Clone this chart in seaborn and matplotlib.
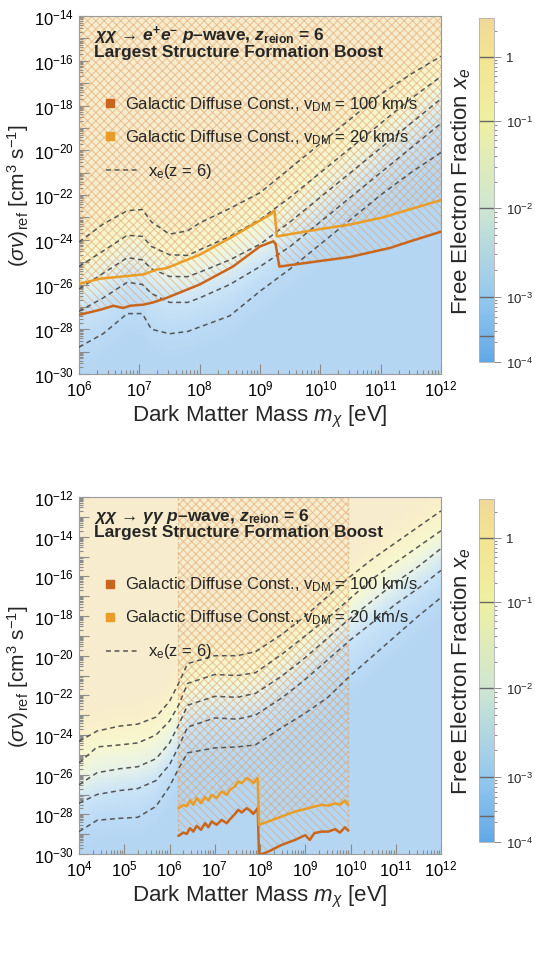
import numpy as np
import matplotlib
matplotlib.use('Agg')
import matplotlib.pyplot as plt
import seaborn as sns
from matplotlib.colors import LinearSegmentedColormap, FuncNorm, to_rgb, to_rgba
from matplotlib.ticker import FixedLocator, FuncFormatter, NullFormatter

sns.set_style('ticks')
plt.rcParams['font.family'] = ['Liberation Sans', 'DejaVu Sans']
plt.rcParams['mathtext.fontset'] = 'custom'
plt.rcParams['mathtext.rm'] = 'Liberation Sans'
plt.rcParams['mathtext.it'] = 'Liberation Sans:italic'
plt.rcParams['mathtext.bf'] = 'Liberation Sans:bold'
plt.rcParams['mathtext.bfit'] = 'Liberation Sans:italic:bold'
plt.rcParams['hatch.linewidth'] = 0.75

# ---------------- data (log10 values) ----------------
# contour levels of x_e(z = 6), top to bottom
XE_LEVELS = [1.0, 1e-1, 1e-2, 1e-3, 2.5e-4]

# top panel: chi chi -> e+ e-, mass grid log10(m / eV)
TOP_MASS = [6.0, 6.4, 6.8, 7.05, 7.2, 7.5, 7.8, 8.0, 8.5, 9.0, 9.5, 10.0, 10.5, 11.0, 11.5, 12.0]
TOP_XE_1 = [-24.1, -23.3, -22.7, -22.65, -23.2, -23.75, -23.6, -23.25, -22.6, -21.9, -20.8, -19.7, -18.6, -17.5, -16.6, -15.8]
TOP_XE_01 = [-25.2, -24.5, -23.8, -23.85, -24.3, -24.67, -24.7, -24.45, -23.85, -23.1, -22.1, -21.0, -19.9, -18.8, -17.7, -16.7]
TOP_XE_001 = [-26.2, -25.5, -24.8, -24.9, -25.3, -25.64, -25.65, -25.45, -24.9, -24.2, -23.2, -22.1, -21.0, -19.9, -18.8, -17.7]
TOP_XE_0001 = [-27.2, -26.6, -25.9, -26.0, -26.4, -26.8, -26.8, -26.6, -26.0, -25.2, -24.3, -23.2, -22.1, -21.0, -19.9, -18.8]
TOP_XE_LOW = [-28.8, -28.2, -27.3, -27.3, -28.0, -28.2, -28.1, -27.9, -27.4, -26.3, -25.3, -24.2, -23.1, -22.0, -21.0, -20.1]

TOP_V100_M = [6.0, 6.35, 6.57, 6.73, 6.85, 7.07, 7.23, 7.45, 8.0, 8.55, 9.0, 9.22, 9.26, 9.32, 9.94, 10.49, 11.15, 11.49, 12.0]
TOP_V100 = [-27.36, -27.13, -26.95, -27.05, -26.95, -26.9, -26.8, -26.6, -26.0, -25.2, -24.3, -24.07, -24.2, -25.2, -24.97, -24.77, -24.37, -24.07, -23.64]
TOP_V20_M = [6.0, 6.35, 6.73, 7.07, 7.28, 7.45, 8.0, 8.55, 9.17, 9.24, 9.28, 9.94, 10.49, 11.04, 11.37, 12.0]
TOP_V20 = [-25.97, -25.74, -25.64, -25.55, -25.34, -25.27, -24.67, -23.85, -22.87, -22.7, -23.85, -23.55, -23.32, -23.0, -22.73, -22.23]

# bottom panel: chi chi -> gamma gamma
BOT_MASS = [4.0, 4.4, 4.9, 5.3, 5.7, 6.0, 6.2, 6.4, 7.0, 7.5, 7.9, 8.5, 9.0, 9.5, 10.0, 10.5, 11.0, 11.5, 12.0]
BOT_XE_1 = [-24.32, -23.8, -23.55, -23.45, -23.1, -22.3, -21.4, -20.4, -20.0, -20.0, -19.8, -18.9, -18.0, -17.0, -16.0, -15.1, -14.3, -13.5, -12.7]
BOT_XE_01 = [-25.41, -24.6, -24.5, -24.4, -24.0, -23.3, -22.5, -21.4, -20.95, -21.0, -20.86, -19.9, -19.0, -18.1, -17.1, -16.1, -15.3, -14.5, -13.7]
BOT_XE_001 = [-26.51, -25.9, -25.7, -25.6, -25.2, -24.4, -23.5, -22.5, -22.05, -22.1, -21.9, -21.0, -20.1, -19.1, -18.1, -17.2, -16.3, -15.5, -14.6]
BOT_XE_0001 = [-27.44, -27.0, -26.8, -26.7, -26.3, -25.5, -24.6, -23.6, -23.14, -23.2, -23.0, -22.1, -21.2, -20.2, -19.2, -18.3, -17.4, -16.6, -15.7]
BOT_XE_LOW = [-28.87, -28.3, -28.2, -28.15, -27.6, -26.6, -25.7, -24.9, -24.65, -24.6, -24.5, -23.6, -22.9, -22.1, -21.0, -20.0, -19.0, -18.0, -17.07]

BOT_V20_M = [6.195, 6.306, 6.38, 6.453, 6.527, 6.601, 6.696, 6.785, 6.858, 6.932, 7.042, 7.153, 7.263,
             7.337, 7.448, 7.521, 7.595, 7.705, 7.779, 7.853, 7.949, 7.978, 8.184, 8.479, 8.773, 9.068,
             9.215, 9.363, 9.51, 9.658, 9.768, 9.879, 9.952]
BOT_V20 = [-27.69, -27.52, -27.6, -27.3, -27.52, -27.18, -27.44, -27.13, -27.3, -27.02, -27.18, -26.85, -27.02,
           -26.76, -26.59, -26.34, -26.43, -26.17, -26.26, -26.43, -26.17, -28.53, -28.36, -28.11, -27.86, -27.69,
           -27.6, -27.52, -27.57, -27.44, -27.52, -27.3, -27.52]
BOT_V100_M = [6.195, 6.306, 6.38, 6.453, 6.527, 6.601, 6.696, 6.785, 6.858, 6.932, 7.042, 7.153, 7.263,
              7.337, 7.448, 7.521, 7.595, 7.705, 7.779, 7.853, 7.949, 7.978, 8.184, 8.479, 8.773, 9.0,
              9.1, 9.2, 9.363, 9.51, 9.658, 9.768, 9.879, 9.952]
BOT_V100 = [-29.09, -28.92, -28.99, -28.7, -28.87, -28.58, -28.78, -28.45, -28.65, -28.36, -28.53, -28.28, -28.45,
            -28.25, -27.98, -27.77, -27.91, -27.69, -27.81, -27.98, -27.69, -30.05, -29.88, -29.54, -29.29, -29.05,
            -29.29, -28.95, -28.87, -28.87, -28.75, -28.92, -28.65, -28.82]

# ---------------- colours ----------------
DARK = '#c9661c'
LIGHT = '#e99d26'
DASH = '#555555'
HATCH = to_rgba('#dea064', 0.55)
BAR_LOGS = [-4.0, -3.0, -2.0, -1.0, 0.0, 0.45]
BAR_POS = [0.0, 0.189, 0.448, 0.70, 0.887, 1.0]
BAR_COLS = ['#62a8e6', '#96c8ee', '#cfe6d2', '#eef0a2', '#f3e492', '#efd89a']

cmap_bar = LinearSegmentedColormap.from_list('xe', list(zip(BAR_POS, BAR_COLS)))
faded = [tuple(0.5 * np.array(to_rgb(c)) + 0.5) for c in BAR_COLS]
cmap_plot = LinearSegmentedColormap.from_list('xe_faded', list(zip(BAR_POS, faded)))


def fwd(x):
    x = np.clip(np.asarray(x, dtype=float), 1e-12, None)
    return np.interp(np.log10(x), BAR_LOGS, BAR_POS)


def inv(y):
    return 10.0 ** np.interp(np.asarray(y, dtype=float), BAR_POS, BAR_LOGS)


bar_norm = FuncNorm((fwd, inv), vmin=1e-4, vmax=10 ** 0.45)


def xe_background(ax, mass, contours, ylim):
    # log10 x_e interpolated between the read contour curves, column by column
    lx = np.linspace(mass[0], mass[-1], 400)
    ly = np.linspace(np.log10(ylim[0]), np.log10(ylim[1]), 400)
    curves = [np.interp(lx, mass, c) for c in contours]
    levs = list(np.log10(XE_LEVELS)[::-1])
    z = np.empty((ly.size, lx.size))
    for j in range(lx.size):
        xp = [curves[4][j] - 1.0] + [curves[i][j] for i in (4, 3, 2, 1, 0)] + [curves[0][j] + 1.5]
        fp = [-3.8] + levs + [0.45]
        z[:, j] = np.interp(ly, xp, fp)
    pos = np.interp(z, BAR_LOGS, BAR_POS)
    ax.pcolormesh(10 ** lx, 10 ** ly, pos, cmap=cmap_plot, vmin=0, vmax=1,
                  shading='auto', rasterized=True, zorder=0)


def sci(v, pos, every=2):
    k = int(round(np.log10(v)))
    if k % every:
        return ''
    return r'$\mathdefault{10^{%d}}$' % k


def draw_panel(ax, mass, contours, m100, v100, m20, v20, xlim, ylim, title):
    ax.set_xscale('log')
    ax.set_yscale('log')
    xe_background(ax, mass, contours, ylim)

    for c in contours:
        sns.lineplot(x=10.0 ** np.array(mass), y=10.0 ** np.array(c), ax=ax, color=DASH,
                     lw=1.1, linestyle=(0, (3.2, 2.4)), sort=False, estimator=None, zorder=3)

    top = ylim[1]
    x100, y100 = 10.0 ** np.array(m100), 10.0 ** np.array(v100)
    x20, y20 = 10.0 ** np.array(m20), 10.0 ** np.array(v20)
    ax.fill_between(x100, y100, top, facecolor='none', edgecolor=HATCH,
                    hatch='\\\\\\\\', linewidth=0, zorder=2)
    ax.fill_between(x20, y20, top, facecolor='none', edgecolor=HATCH,
                    hatch='////', linewidth=0, zorder=2)
    # edges of the excluded mass range
    ax.vlines([x100[0], x100[-1]], [y100[0], y100[-1]], top, colors=[HATCH], lw=1.0,
              linestyles=[(0, (2, 1.5))], zorder=2)

    sns.lineplot(x=x100, y=y100, ax=ax, color=DARK, lw=1.8, sort=False, estimator=None, zorder=4)
    sns.lineplot(x=x20, y=y20, ax=ax, color=LIGHT, lw=1.8, sort=False, estimator=None, zorder=4)

    ax.set_xlim(*xlim)
    ax.set_ylim(*ylim)

    lo, hi = int(np.log10(xlim[0])), int(np.log10(xlim[1]))
    ax.xaxis.set_major_locator(FixedLocator([10.0 ** k for k in range(lo, hi + 1)]))
    ax.xaxis.set_major_formatter(FuncFormatter(lambda v, p: sci(v, p, 1)))
    ax.xaxis.set_minor_locator(FixedLocator([m * 10.0 ** k for k in range(lo, hi) for m in range(2, 10)]))
    ax.xaxis.set_minor_formatter(NullFormatter())
    ylo, yhi = int(round(np.log10(ylim[0]))), int(round(np.log10(ylim[1])))
    ax.yaxis.set_major_locator(FixedLocator([10.0 ** k for k in range(ylo, yhi + 1)]))
    ax.yaxis.set_major_formatter(FuncFormatter(lambda v, p: sci(v, p, 2)))
    ax.yaxis.set_minor_locator(FixedLocator([m * 10.0 ** k for k in range(ylo, yhi) for m in range(2, 10)]))
    ax.yaxis.set_minor_formatter(NullFormatter())
    ax.tick_params(which='both', direction='in', color='#8c8c8c', labelcolor='black',
                   labelsize=12, width=0.8)
    ax.tick_params(which='major', length=7)
    ax.tick_params(which='minor', length=3)
    for s in ax.spines.values():
        s.set_color('#9a9a9a')
        s.set_linewidth(0.8)

    ax.set_xlabel(r'Dark Matter Mass $m_\chi$ [eV]', fontsize=16, labelpad=3)
    ax.set_ylabel(r'$(\sigma v)_{\mathrm{ref}}$ [cm$^{3}$ s$^{-1}$]', fontsize=15, labelpad=2)

    # title and legend, placed in axes fractions
    ax.text(0.041, 0.948, title, transform=ax.transAxes, fontsize=12.5, fontweight='bold',
            va='center', ha='left', zorder=6)
    ax.text(0.041, 0.902, 'Largest Structure Formation Boost', transform=ax.transAxes,
            fontsize=12.5, fontweight='bold', va='center', ha='left', zorder=6)
    entries = [(0.756, DARK, '100'), (0.664, LIGHT, '20')]
    for yy, col, v in entries:
        ax.plot([0.0856], [yy], transform=ax.transAxes, marker='s', ms=6, color=col, ls='none', zorder=6)
        ax.text(0.127, yy, 'Galactic Diffuse Const., v$_{\\mathrm{DM}}$ = %s km/s' % v,
                transform=ax.transAxes, fontsize=12, va='center', ha='left', zorder=6)
    ax.plot([0.074, 0.163], [0.569, 0.569], transform=ax.transAxes, color=DASH, lw=1.1,
            ls=(0, (3.2, 2.4)), zorder=6)
    ax.text(0.19, 0.569, 'x$_{\\mathrm{e}}$(z = 6)', transform=ax.transAxes, fontsize=12,
            va='center', ha='left', zorder=6)


def add_colorbar(fig, rect):
    cax = fig.add_axes(rect)
    sm = plt.cm.ScalarMappable(norm=bar_norm, cmap=cmap_bar)
    cb = fig.colorbar(sm, cax=cax)
    cb.set_ticks([1e-4, 1e-3, 1e-2, 1e-1, 1.0])
    cb.set_ticklabels([r'$\mathdefault{10^{-4}}$', r'$\mathdefault{10^{-3}}$',
                       r'$\mathdefault{10^{-2}}$', r'$\mathdefault{10^{-1}}$', '1'])
    minor = [m * 10.0 ** k for k in range(-4, 1) for m in range(2, 10) if m * 10.0 ** k < 10 ** 0.45]
    cb.ax.yaxis.set_minor_locator(FixedLocator(minor))
    cb.ax.yaxis.set_minor_formatter(NullFormatter())
    for v in XE_LEVELS:
        cb.ax.axhline(v, color='#666666', lw=1.0)
    cb.outline.set_edgecolor('#b0b0b0')
    cb.outline.set_linewidth(0.6)
    cb.ax.tick_params(which='both', direction='out', color='#8c8c8c', labelsize=9.5, width=0.7)
    cb.ax.tick_params(which='major', length=5)
    cb.ax.tick_params(which='minor', length=2.5)
    cb.ax.yaxis.set_ticks_position('right')
    cb.set_label(r'Free Electron Fraction $x_e$', fontsize=16, labelpad=4)
    cb.ax.yaxis.set_label_position('left')


W, H = 535, 962
fig = plt.figure(figsize=(W / 100, H / 100), dpi=100)

ax1 = fig.add_axes([79 / W, 1 - 375 / H, 362 / W, 358 / H])
draw_panel(ax1, TOP_MASS, [TOP_XE_1, TOP_XE_01, TOP_XE_001, TOP_XE_0001, TOP_XE_LOW],
           TOP_V100_M, TOP_V100, TOP_V20_M, TOP_V20, (1e6, 1e12), (1e-30, 1e-14),
           r'$\mathbfit{\chi\chi}$ → $\mathbfit{e}^{\mathbf{+}}\mathbfit{e}^{\mathbf{-}}$ '
           r'$\mathbfit{p}$–wave, $\mathbfit{z}_{\mathbf{reion}}$ = 6')
add_colorbar(fig, [479 / W, 1 - 363 / H, 15 / W, 344 / H])

ax2 = fig.add_axes([79 / W, 1 - 855 / H, 362 / W, 357 / H])
draw_panel(ax2, BOT_MASS, [BOT_XE_1, BOT_XE_01, BOT_XE_001, BOT_XE_0001, BOT_XE_LOW],
           BOT_V100_M, BOT_V100, BOT_V20_M, BOT_V20, (1e4, 1e12), (1e-30, 1e-12),
           r'$\mathbfit{\chi\chi}$ → $\mathbfit{\gamma\gamma}$ '
           r'$\mathbfit{p}$–wave, $\mathbfit{z}_{\mathbf{reion}}$ = 6')
add_colorbar(fig, [479 / W, 1 - 843 / H, 15 / W, 343 / H])

fig.savefig('out.png', dpi=100)
